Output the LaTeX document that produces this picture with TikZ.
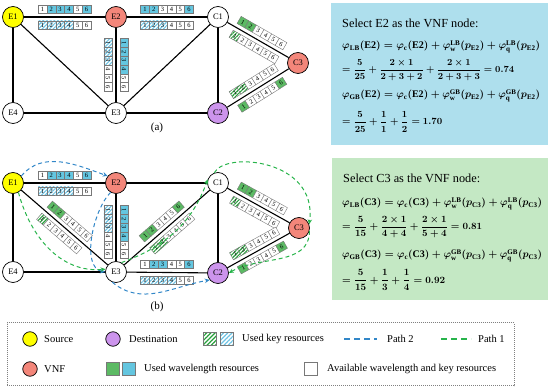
\documentclass[tikz,border=0pt]{standalone}
\usepackage{amsmath}
\usepackage{graphicx}
\usepackage{fontspec}
\setmainfont{Liberation Serif}
\usetikzlibrary{calc,arrows.meta,patterns.meta}

\definecolor{cyellow}{RGB}{255,255,0}
\definecolor{cvnf}{RGB}{243,134,122}
\definecolor{cdst}{RGB}{204,148,236}
\definecolor{cblue}{RGB}{100,198,224}
\definecolor{cgreen}{RGB}{92,186,100}
\definecolor{chblue}{RGB}{110,195,228}
\definecolor{chgreen}{RGB}{40,160,60}
\definecolor{boxblue}{RGB}{174,223,237}
\definecolor{boxgreen}{RGB}{196,232,196}
\definecolor{cpathtwo}{RGB}{50,135,200}
\definecolor{cpathone}{RGB}{40,180,75}
\definecolor{cellline}{RGB}{120,120,120}

\newcommand{\cellwd}{8.8}
\newcommand{\wlrow}[5]{%
  \begin{scope}[shift={#2},rotate=#3]
    \foreach \t [count=\i] in {#5}{%
      \edef\cellcmd{\noexpand\node[cell\t,transform shape,name=#1-\i] at ({(\i-3.5)*\cellwd},#4) {\i};}%
      \cellcmd}
  \end{scope}}

\begin{document}
\begin{tikzpicture}[x=1pt,y=1pt,
  nd/.style={circle,draw,line width=0.7pt,minimum size=21pt,inner sep=0pt,font=\fontsize{8.5}{9}\selectfont},
  src/.style={nd,fill=cyellow},
  vnf/.style={nd,fill=cvnf},
  dst/.style={nd,fill=cdst},
  plain/.style={nd,fill=white},
  edge/.style={line width=1.1pt},
  basecell/.style={rectangle,draw=cellline,line width=0.4pt,minimum width=8.8pt,minimum height=8.2pt,inner sep=0pt,font=\fontsize{6.5}{6.5}\selectfont},
  cellw/.style={basecell,fill=white},
  cellb/.style={basecell,fill=cblue},
  cellg/.style={basecell,fill=cgreen},
  cellhb/.style={basecell,preaction={fill=white},pattern={Lines[angle=45,distance=2.6pt,line width=1.1pt]},pattern color=chblue},
  cellhg/.style={basecell,preaction={fill=white},pattern={Lines[angle=45,distance=2.6pt,line width=1.1pt]},pattern color=chgreen},
  ptwo/.style={draw=cpathtwo,line width=1pt,dash pattern=on 4pt off 3pt,-{Stealth[length=5pt,width=4.5pt]}},
  pone/.style={draw=cpathone,line width=1pt,dash pattern=on 4pt off 3pt,-{Stealth[length=5pt,width=4.5pt]}},
  txt/.style={anchor=west,inner sep=0pt},
  lgtxt/.style={anchor=west,inner sep=0pt,font=\fontsize{10.5}{12}\selectfont},
  lgcirc/.style={circle,draw,line width=0.7pt,minimum size=14.5pt,inner sep=0pt},
  lgsq/.style={rectangle,draw=cellline,line width=0.6pt,minimum size=12.5pt,inner sep=0pt},
  lgline/.style={line width=1.3pt,dash pattern=on 6pt off 4pt}
]
\useasboundingbox (0,0) rectangle (550,391);

% ---------- panel (a) ----------
\node[src] (aE1) at (13,374) {E1};
\node[vnf] (aE2) at (116,374) {E2};
\node[plain] (aC1) at (218,374) {C1};
\node[vnf] (aC3) at (298,328) {C3};
\node[plain] (aE4) at (13,278) {E4};
\node[plain] (aE3) at (116,278) {E3};
\node[dst] (aC2) at (218,278) {C2};

% ---------- panel (b) ----------
\node[src] (bE1) at (13,208) {E1};
\node[vnf] (bE2) at (116,208) {E2};
\node[plain] (bC1) at (218,208) {C1};
\node[vnf] (bC3) at (299,163) {C3};
\node[plain] (bE4) at (13,119) {E4};
\node[plain] (bE3) at (116,119) {E3};
\node[dst] (bC2) at (218,118) {C2};

\foreach \u/\v in {E1/E2,E2/C1,E1/E4,E1/E3,E2/E3,E3/C1,E4/E3,E3/C2,C1/C2,C1/C3,C2/C3}{
  \draw[edge] (a\u) -- (a\v);
  \draw[edge] (b\u) -- (b\v);
}

% wavelength rows, panel (a)
\wlrow{ra1}{($(aE1)!0.5!(aE2)$)}{0}{8}{w,b,b,b,w,b}
\wlrow{ra2}{($(aE1)!0.5!(aE2)$)}{0}{-8}{hb,hb,hb,hb,w,w}
\wlrow{ra3}{($(aE2)!0.5!(aC1)$)}{0}{8}{b,b,w,w,w,b}
\wlrow{ra4}{($(aE2)!0.5!(aC1)$)}{0}{-8}{hb,hb,hb,w,w,w}
\wlrow{ra5}{($(aE2)!0.5!(aE3)$)}{-90}{-8}{hb,hb,hb,w,w,w}
\wlrow{ra6}{($(aE2)!0.5!(aE3)$)}{-90}{8}{b,b,b,b,w,w}
\wlrow{ra7}{($(aC1)!0.5!(aC3)$)}{-29.9}{8}{g,g,w,w,w,w}
\wlrow{ra8}{($(aC1)!0.5!(aC3)$)}{-29.9}{-8}{hg,w,w,w,w,w}
\wlrow{ra9}{($(aC2)!0.5!(aC3)$)}{32}{8}{hg,hg,w,w,w,w}
\wlrow{ra10}{($(aC2)!0.5!(aC3)$)}{32}{-8}{g,w,w,w,w,g}

% wavelength rows, panel (b)
\wlrow{rb1}{($(bE1)!0.5!(bE2)$)}{0}{8}{w,b,b,b,w,b}
\wlrow{rb2}{($(bE1)!0.5!(bE2)$)}{0}{-8}{hb,hb,hb,hb,w,w}
\wlrow{rb3}{($(bE2)!0.55!(bE3)$)}{-90}{-8}{hb,hb,hb,w,w,w}
\wlrow{rb4}{($(bE2)!0.55!(bE3)$)}{-90}{8}{b,b,b,b,w,w}
\wlrow{rb5}{($(bE1)!0.5!(bE3)$)}{-40.8}{8}{g,g,w,w,w,w}
\wlrow{rb6}{($(bE1)!0.5!(bE3)$)}{-40.8}{-8}{hg,w,w,w,w,w}
\wlrow{rb7}{($(bE3)!0.5!(bC1)$)}{41.1}{8}{g,g,w,w,w,g}
\wlrow{rb8}{($(bE3)!0.5!(bC1)$)}{41.1}{-8}{hg,hg,w,w,w,w}
\wlrow{rb9}{($(bE3)!0.5!(bC2)$)}{0}{8}{w,b,b,w,w,b}
\wlrow{rb10}{($(bE3)!0.5!(bC2)$)}{0}{-8}{hb,hb,hb,hb,w,w}
\wlrow{rb11}{($(bC1)!0.5!(bC3)$)}{-29}{8}{g,g,w,w,w,w}
\wlrow{rb12}{($(bC1)!0.5!(bC3)$)}{-29}{-8}{hg,w,w,w,w,w}
\wlrow{rb13}{($(bC2)!0.5!(bC3)$)}{29}{8}{hg,hg,w,w,w,w}
\wlrow{rb14}{($(bC2)!0.5!(bC3)$)}{29}{-8}{g,w,w,w,w,g}

% paths in (b)
\draw[ptwo] (bE1.40) to[out=50,in=160] (bE2.140);
\draw[ptwo] (bE2.240) to[out=225,in=170,looseness=0.8] (bE3.180);
\draw[ptwo] (bE3.250) to[out=-40,in=190] (bC2.220);
\draw[pone] (bE1.300) to[out=-75,in=185] (bE3.165);
\draw[pone] (bE3.60) to[out=20,in=250] (bC1.160);
\draw[pone] (bC1.110) .. controls (225,240) and (318,232) .. (bC3.20);
\draw[pone] (bC3.-15) to[out=-90,in=30] (bC2.east);

% panel labels
\node[font=\fontsize{11}{12}\selectfont] (laba) at (157,263) {(a)};
\node[font=\fontsize{11}{12}\selectfont] (labb) at (157,84) {(b)};

% ---------- formula boxes ----------
\node[fill=boxblue,minimum width=217pt,minimum height=142pt,anchor=north west,inner sep=0pt] (boxA) at (331,388) {};
\node[txt,font=\fontsize{12.3}{14}\selectfont] (fa0) at (342,368) {Select E2 as the VNF node:};
\node[txt] (fa1) at (342,344) {\resizebox{198pt}{!}{\boldmath$\varphi_{\mathrm{LB}}(\mathrm{E2})=\varphi_{\mathrm{c}}(\mathrm{E2})+\varphi_{\mathrm{w}}^{\mathrm{LB}}(p_{\mathrm{E2}})+\varphi_{\mathrm{q}}^{\mathrm{LB}}(p_{\mathrm{E2}})$}};
\node[txt] (fa2) at (342,321) {\resizebox{172pt}{!}{\boldmath$\displaystyle=\frac{5}{25}+\frac{2\times1}{2+3+2}+\frac{2\times1}{2+3+3}=0.74$}};
\node[txt] (fa3) at (342,295) {\resizebox{198pt}{!}{\boldmath$\varphi_{\mathrm{GB}}(\mathrm{E2})=\varphi_{\mathrm{c}}(\mathrm{E2})+\varphi_{\mathrm{w}}^{\mathrm{GB}}(p_{\mathrm{E2}})+\varphi_{\mathrm{q}}^{\mathrm{GB}}(p_{\mathrm{E2}})$}};
\node[txt] (fa4) at (342,269) {\resizebox{100pt}{!}{\boldmath$\displaystyle=\frac{5}{25}+\frac{1}{1}+\frac{1}{2}=1.70$}};

\node[fill=boxgreen,minimum width=216pt,minimum height=142pt,anchor=north west,inner sep=0pt] (boxB) at (332,233) {};
\node[txt,font=\fontsize{12.3}{14}\selectfont] (fb0) at (343,213) {Select C3 as the VNF node:};
\node[txt] (fb1) at (342,187) {\resizebox{200pt}{!}{\boldmath$\varphi_{\mathrm{LB}}(\mathrm{C3})=\varphi_{\mathrm{c}}(\mathrm{C3})+\varphi_{\mathrm{w}}^{\mathrm{LB}}(p_{\mathrm{C3}})+\varphi_{\mathrm{q}}^{\mathrm{LB}}(p_{\mathrm{C3}})$}};
\node[txt] (fb2) at (342,164) {\resizebox{140pt}{!}{\boldmath$\displaystyle=\frac{5}{15}+\frac{2\times1}{4+4}+\frac{2\times1}{5+4}=0.81$}};
\node[txt] (fb3) at (342,135) {\resizebox{200pt}{!}{\boldmath$\varphi_{\mathrm{GB}}(\mathrm{C3})=\varphi_{\mathrm{c}}(\mathrm{C3})+\varphi_{\mathrm{w}}^{\mathrm{GB}}(p_{\mathrm{C3}})+\varphi_{\mathrm{q}}^{\mathrm{GB}}(p_{\mathrm{C3}})$}};
\node[txt] (fb4) at (342,111) {\resizebox{103pt}{!}{\boldmath$\displaystyle=\frac{5}{15}+\frac{1}{3}+\frac{1}{4}=0.92$}};

% ---------- legend ----------
\node[draw=gray,dash pattern=on 1pt off 1pt,line width=0.6pt,minimum width=507pt,minimum height=63pt,anchor=south west,inner sep=0pt] (leg) at (7,5) {};
\node[lgcirc,fill=cyellow] (lsrc) at (30,52) {};
\node[lgtxt] (lsrct) at (44,52) {Source};
\node[lgcirc,fill=cdst] (ldst) at (113,52) {};
\node[lgtxt] (ldstt) at (129,52) {Destination};
\node[lgsq,preaction={fill=white},pattern={Lines[angle=45,distance=3pt,line width=1.2pt]},pattern color=chgreen] (lhg) at (210,52) {};
\node[lgsq,preaction={fill=white},pattern={Lines[angle=45,distance=3pt,line width=1.2pt]},pattern color=chblue] (lhb) at (227,52) {};
\node[lgtxt] (lkeyt) at (242,52) {Used key resources};
\coordinate (lp2a) at (344,52);
\coordinate (lp2b) at (377,52);
\draw[lgline,color=cpathtwo] (lp2a) -- (lp2b);
\node[lgtxt] (lp2t) at (387,52) {Path 2};
\coordinate (lp1a) at (441,52);
\coordinate (lp1b) at (471,52);
\draw[lgline,color=cpathone] (lp1a) -- (lp1b);
\node[lgtxt] (lp1t) at (478,52) {Path 1};
\node[lgcirc,fill=cvnf] (lvnf) at (30,22) {};
\node[lgtxt] (lvnft) at (44,22) {VNF};
\node[lgsq,fill=cgreen] (lg) at (113,22) {};
\node[lgsq,fill=cblue] (lb) at (129,22) {};
\node[lgtxt] (lwlt) at (144,22) {Used wavelength resources};
\node[lgsq,fill=white] (lw) at (311,22) {};
\node[lgtxt] (lavt) at (327,22) {Available wavelength and key resources};
\end{tikzpicture}
\end{document}
